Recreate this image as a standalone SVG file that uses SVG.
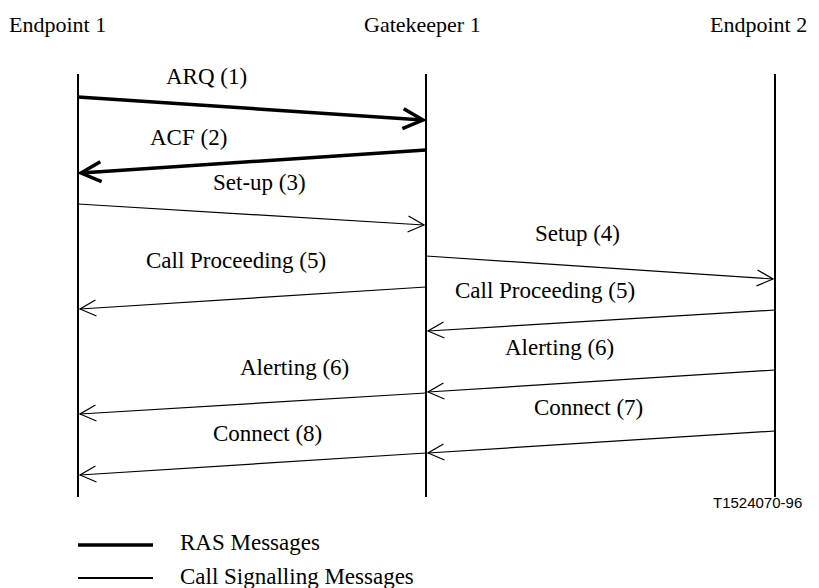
<svg xmlns="http://www.w3.org/2000/svg" width="819" height="588" viewBox="0 0 819 588">
<style>
.t{font-family:"Liberation Serif","Times New Roman",serif;font-size:23px;fill:#000}
.h{font-family:"Liberation Serif","Times New Roman",serif;font-size:22px;fill:#000}
.s{font-family:"Liberation Sans",Arial,sans-serif;font-size:15px;fill:#000}
.life{stroke:#000;stroke-width:2;fill:none}
.thin{stroke:#000;stroke-width:1.2;fill:none}
.thick{stroke:#000;stroke-width:3.5;fill:none}
</style>
<defs>
<marker id="ah" markerUnits="userSpaceOnUse" orient="auto" refX="0" refY="0" viewBox="-20 -10 22 20" markerWidth="22" markerHeight="20" overflow="visible">
<path d="M-16,-8 L0,0 L-16,8" fill="none" stroke="#000" stroke-width="1.2"/>
</marker>
<marker id="ahb" markerUnits="userSpaceOnUse" orient="auto" refX="0" refY="0" viewBox="-24 -12 26 24" markerWidth="26" markerHeight="24" overflow="visible">
<path d="M-20,-10 L0,0 L-20,10" fill="none" stroke="#000" stroke-width="3.5" stroke-linecap="butt"/>
</marker>
</defs>
<rect width="819" height="588" fill="#fff"/>
<g id="endpoint1">
<text class="h" x="9" y="32">Endpoint 1</text>
<line class="life" x1="78" y1="74" x2="78" y2="497"/>
</g>
<g id="gatekeeper1">
<text class="h" x="364" y="32">Gatekeeper 1</text>
<line class="life" x1="426" y1="74" x2="426" y2="497"/>
</g>
<g id="endpoint2">
<text class="h" x="710" y="32">Endpoint 2</text>
<line class="life" x1="775" y1="74" x2="775" y2="497"/>
</g>
<g id="connectors">
<line class="thick" x1="78" y1="97" x2="423" y2="120" marker-end="url(#ahb)"/>
<line class="thick" x1="426" y1="150" x2="81" y2="173" marker-end="url(#ahb)"/>
<line class="thin" x1="78" y1="204" x2="424" y2="225" marker-end="url(#ah)"/>
<line class="thin" x1="426" y1="256" x2="773" y2="279" marker-end="url(#ah)"/>
<line class="thin" x1="426" y1="287" x2="80" y2="309" marker-end="url(#ah)"/>
<line class="thin" x1="775" y1="310" x2="428" y2="331" marker-end="url(#ah)"/>
<line class="thin" x1="775" y1="370" x2="428" y2="392" marker-end="url(#ah)"/>
<line class="thin" x1="426" y1="393" x2="80" y2="414" marker-end="url(#ah)"/>
<line class="thin" x1="775" y1="431" x2="428" y2="453" marker-end="url(#ah)"/>
<line class="thin" x1="426" y1="453" x2="80" y2="475" marker-end="url(#ah)"/>
</g>
<g id="labels">
<text class="t" x="166" y="84">ARQ (1)</text>
<text class="t" x="150" y="145">ACF (2)</text>
<text class="t" x="213" y="190">Set-up (3)</text>
<text class="t" x="535" y="241">Setup (4)</text>
<text class="t" x="146" y="268">Call Proceeding (5)</text>
<text class="t" x="455" y="298">Call Proceeding (5)</text>
<text class="t" x="505" y="355">Alerting (6)</text>
<text class="t" x="240" y="375">Alerting (6)</text>
<text class="t" x="534" y="415">Connect (7)</text>
<text class="t" x="213" y="441">Connect (8)</text>
<text class="s" x="713" y="508">T1524070-96</text>
</g>
<g id="legend">
<line x1="78" y1="545" x2="153" y2="545" stroke="#000" stroke-width="3.5"/>
<text class="t" x="180" y="550">RAS Messages</text>
<line x1="78" y1="578" x2="153" y2="578" stroke="#000" stroke-width="1.8"/>
<text class="t" x="180" y="584">Call Signalling Messages</text>
</g>
</svg>
